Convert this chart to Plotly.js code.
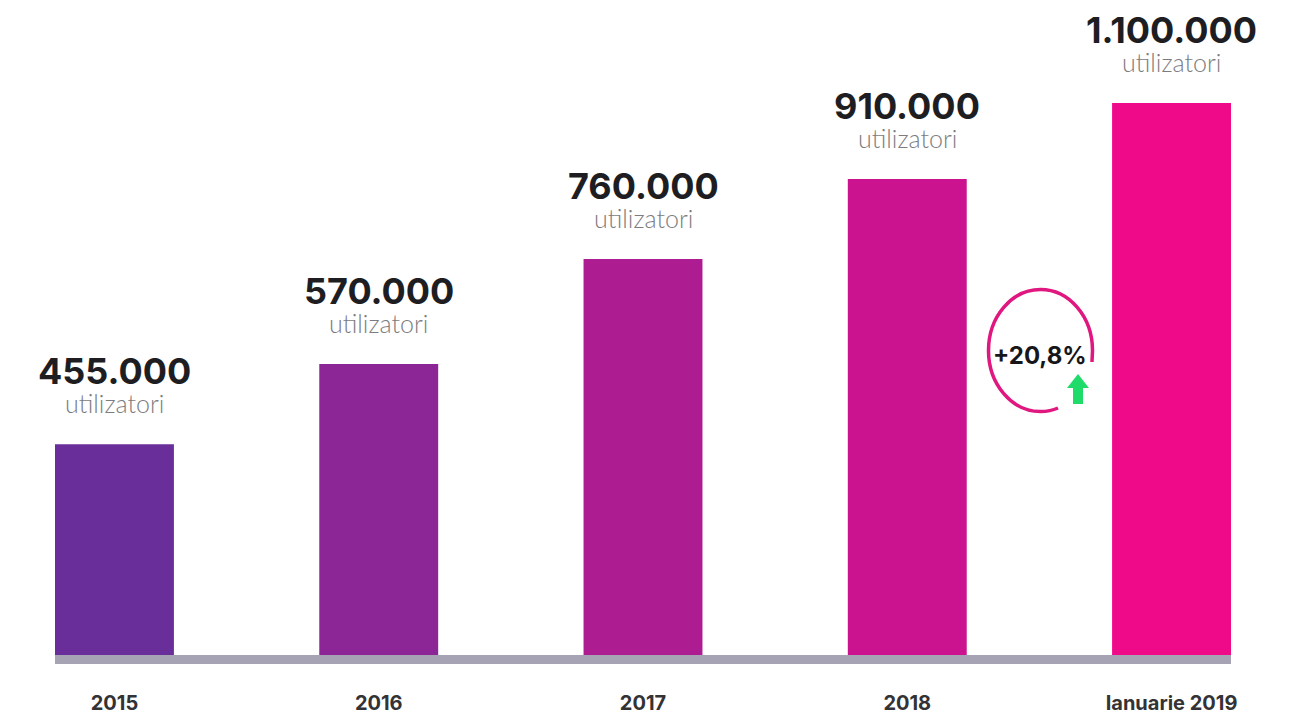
<!DOCTYPE html>
<html>
<head>
<meta charset="utf-8">
<script src="https://cdn.plot.ly/plotly-3.0.1.min.js"></script>
<style>html,body{margin:0;padding:0;background:#fff}#c{width:1303px;height:719px}</style>
</head>
<body>
<div id="c"></div>
<script>
// The original bars are not to scale with their labels, so the drawn heights
// and the printed labels are kept separately.
const categories = ['2015', '2016', '2017', '2018', 'Ianuarie 2019'];
const barHeights = [420000, 580000, 789000, 948500, 1100000];
const valueLabels = ['455.000', '570.000', '760.000', '910.000', '1.100.000'];
const unitLabel = 'utilizatori';
const barColors = ['#6a2e9b', '#8c2596', '#ae1c92', '#cb138f', '#ef0a8a'];
const growthLabel = '+20,8%';

const W = 1303, H = 719;
const m = {l: 55, r: 72, t: 103, b: 64};
const px = v => ((v - m.l) / (W - m.l - m.r)).toFixed(5);
const py = v => (1 - (v - m.t) / (H - m.t - m.b)).toFixed(5);
const P = (x, y) => px(x) + ' ' + py(y);

// Growth ring, drawn in page-relative coordinates
const cx = 1040.5, cy = 350.5, rx = 52, ry = 61, k = 0.5523;
const ring = 'M ' + P(1092, 362) + ' L ' + P(cx + rx, cy) +
  ' C ' + P(cx + rx, cy - k * ry) + ', ' + P(cx + k * rx, cy - ry) + ', ' + P(cx, cy - ry) +
  ' C ' + P(cx - k * rx, cy - ry) + ', ' + P(cx - rx, cy - k * ry) + ', ' + P(cx - rx, cy) +
  ' C ' + P(cx - rx, cy + k * ry) + ', ' + P(cx - k * rx, cy + ry) + ', ' + P(cx, cy + ry) +
  ' C ' + P(cx + 6, cy + ry) + ', ' + P(cx + 12, cy + ry - 1) + ', ' + P(1058, 408);
const arrow = 'M ' + P(1078, 374) + ' L ' + P(1089, 388) + ' L ' + P(1083, 388) + ' L ' + P(1083, 404) +
  ' L ' + P(1073, 404) + ' L ' + P(1073, 388) + ' L ' + P(1067, 388) + ' Z';

const annotations = [];
categories.forEach((c, i) => {
  annotations.push({x: i, y: barHeights[i], xref: 'x', yref: 'y', text: valueLabels[i], showarrow: false,
    xanchor: 'center', yanchor: 'middle', yshift: 73, height: 34, borderpad: 0,
    font: {family: 'Inter, sans-serif', size: 36, weight: 700, color: '#1e1e22'}});
  annotations.push({x: i, y: barHeights[i], xref: 'x', yref: 'y', text: unitLabel, showarrow: false,
    xanchor: 'center', yanchor: 'middle', yshift: 41, height: 26, borderpad: 0,
    font: {family: 'Lato, sans-serif', size: 25, weight: 300, color: '#7c7c80'}});
});
annotations.push({x: +px(1040.5), y: +py(356), xref: 'paper', yref: 'paper', text: growthLabel, showarrow: false,
  xanchor: 'center', yanchor: 'middle', font: {family: 'Inter, sans-serif', size: 24, weight: 700, color: '#17171a'}});

Plotly.newPlot('c', [{
  type: 'bar', x: categories, y: barHeights, width: 0.45,
  marker: {color: barColors, line: {width: 0}}, hoverinfo: 'skip'
}], {
  width: W, height: H, margin: m, showlegend: false,
  paper_bgcolor: '#fff', plot_bgcolor: '#fff',
  xaxis: {
    type: 'category', range: [-0.225, 4.225], fixedrange: true,
    showline: true, linecolor: '#a5a3b4', linewidth: 9, showgrid: false, zeroline: false,
    ticks: '', ticklabelstandoff: 22,
    tickfont: {family: 'Inter, sans-serif', size: 20, weight: 700, color: '#333336'}
  },
  yaxis: {range: [0, 1100000], visible: false, fixedrange: true},
  annotations,
  shapes: [
    {type: 'path', xref: 'paper', yref: 'paper', path: ring, line: {color: '#e0177f', width: 3.5}, fillcolor: 'rgba(0,0,0,0)'},
    {type: 'path', xref: 'paper', yref: 'paper', path: arrow, line: {width: 0}, fillcolor: '#1fdc6a'}
  ]
}, {staticPlot: true, displayModeBar: false});
</script>
</body>
</html>
